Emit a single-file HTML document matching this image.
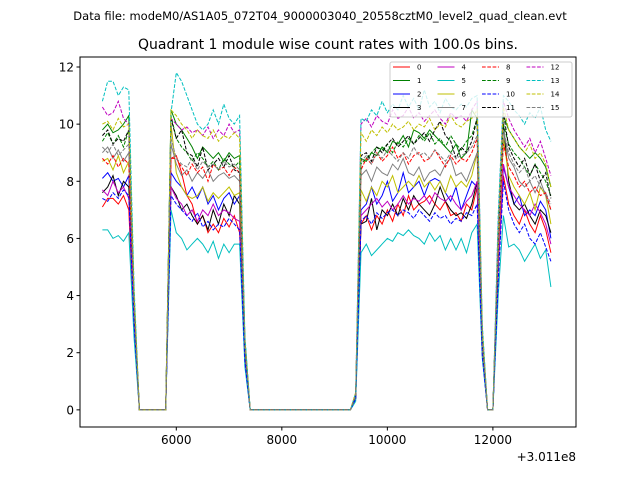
<!DOCTYPE html>
<html><head><meta charset="utf-8"><style>
body{margin:0;background:#fff;}
svg{display:block;font-family:"DejaVu Sans","Liberation Sans",sans-serif;}
</style></head><body>
<svg id="chart" width="640" height="480">
<rect width="640" height="480" fill="#fff"/>
<text x="320" y="20" font-size="11.5" text-anchor="middle">Data file: modeM0/AS1A05_072T04_9000003040_20558cztM0_level2_quad_clean.evt</text>
<text x="328" y="49" font-size="14" text-anchor="middle">Quadrant 1 module wise count rates with 100.0s bins.</text>
<g id="plot"></g>
</svg>
<script>
const tStart = 4600, tStep = 100;
const xTicks = [6000, 8000, 10000, 12000];
const yTicks = [0, 2, 4, 6, 8, 10, 12];
const seriesNames = ["0","1","2","3","4","5","6","7","8","9","10","11","12","13","14","15"];
const seg1 = [
[7.1,7.4,7.4,7.2,7.5,7.0,2.8],[9.8,10.0,9.7,9.8,10.0,10.3,4.0],[8.1,8.3,8.0,8.1,7.8,8.2,3.3],[7.6,7.8,8.2,7.5,8.0,7.8,3.1],
[7.7,7.5,8.0,7.6,7.8,7.4,3.0],[6.3,6.3,6.0,6.1,5.9,6.2,2.5],[8.7,8.8,8.4,8.9,8.3,8.7,3.5],[9.0,9.2,8.8,9.1,8.7,9.0,3.6],
[8.8,8.6,8.9,8.5,8.8,8.6,3.5],[9.4,9.7,9.3,9.6,9.2,9.8,3.8],[7.4,7.3,7.6,7.4,7.7,7.5,3.0],[9.6,9.8,9.3,9.5,9.4,9.8,3.8],
[10.6,10.3,10.4,10.8,10.2,10.0,4.0],[10.8,11.5,11.5,11.0,11.3,11.2,4.3],[10.0,10.1,9.8,10.2,9.9,10.0,4.0],[9.2,9.0,9.3,8.9,9.1,9.3,3.6]];
const seg2 = [
[8.8,8.9,8.3,7.5,7.2,6.5,6.8,6.2,6.5,6.2,6.7,6.4,6.8,6.2,1.8],
[10.5,10.0,9.8,9.5,9.2,8.8,9.2,9.0,8.8,9.0,8.7,9.0,8.8,8.9,2.5],
[8.3,8.0,7.8,7.5,7.8,7.4,7.8,7.2,7.5,7.0,7.4,7.6,7.2,7.5,2.0],
[7.8,7.5,7.0,7.2,6.8,6.5,6.8,6.3,7.0,6.5,7.2,6.8,7.5,7.2,1.8],
[7.8,7.4,7.2,6.8,7.0,6.6,7.0,6.8,7.2,6.8,7.0,6.9,6.7,6.6,1.8],
[7.0,6.2,6.0,5.6,5.8,6.0,5.8,5.5,5.9,5.3,5.8,5.5,5.8,5.8,1.5],
[10.0,8.3,7.8,7.5,7.4,7.5,7.8,7.3,7.6,7.4,7.6,7.8,7.5,7.6,2.1],
[9.3,8.6,8.2,8.4,8.0,8.3,8.1,8.4,8.0,8.2,8.3,8.1,8.2,8.0,2.2],
[8.8,8.8,8.5,8.2,8.6,8.3,8.5,8.0,8.6,8.4,8.5,8.2,8.5,8.3,2.2],
[10.3,9.5,9.2,9.0,8.7,9.0,8.8,8.5,8.7,8.4,8.8,8.6,8.5,8.7,2.3],
[7.5,7.2,7.0,6.8,6.6,6.9,6.4,6.6,6.3,6.5,6.4,6.7,6.5,6.3,1.7],
[10.2,9.5,9.8,9.0,8.9,8.5,9.2,8.4,8.6,8.8,8.5,8.9,8.4,8.3,2.2],
[10.2,10.0,9.8,9.9,9.7,9.8,9.6,9.9,9.5,9.8,9.6,10.0,9.7,9.8,2.4],
[10.4,11.8,11.5,11.0,10.5,10.0,9.8,10.0,10.5,10.0,10.7,10.2,10.0,10.3,2.6],
[10.5,10.3,10.0,9.8,9.5,9.8,9.6,9.5,9.8,9.4,9.6,9.5,9.7,9.5,2.4],
[9.5,8.8,8.6,8.5,8.8,8.4,8.7,8.5,8.6,8.4,8.7,8.5,8.6,8.4,2.2]];
const seg3 = [
[0.4,6.5,6.8,6.3,6.8,6.5,7.0,6.6,7.2,6.8,7.5,7.0,7.2,7.3,7.5,7.2,7.0,7.3,6.8,6.9,6.6,7.2,7.0,7.8],
[0.5,8.8,8.7,9.0,8.9,9.2,9.0,9.4,9.3,9.6,9.2,9.8,9.7,9.5,9.8,9.6,9.4,9.2,9.0,9.3,8.8,9.0,10.5,10.2],
[0.4,7.0,7.2,7.8,7.2,7.5,8.0,7.3,7.6,8.3,7.6,7.8,8.0,7.5,8.0,8.1,8.0,7.6,7.3,7.8,7.0,7.5,8.0,7.8],
[0.4,6.5,6.6,7.4,6.3,7.0,6.8,7.2,6.8,7.4,7.0,7.5,7.2,7.0,6.8,7.2,7.8,7.3,7.0,6.8,6.9,6.7,7.2,8.0],
[0.4,6.8,7.0,7.2,7.4,7.1,7.3,7.0,7.2,7.5,7.2,7.4,7.3,7.5,7.2,7.6,7.4,7.3,7.5,7.2,7.0,7.3,7.5,8.0],
[0.3,5.5,5.8,5.4,5.6,5.8,6.0,5.9,6.2,6.1,6.3,6.1,6.0,5.8,6.2,5.9,6.1,5.6,6.0,5.6,6.0,5.5,6.2,6.5],
[0.5,7.7,7.3,7.8,7.5,8.0,7.8,8.2,7.6,7.8,8.0,7.8,8.2,7.8,8.0,7.7,8.0,7.6,8.2,7.8,8.0,7.8,8.2,9.0],
[0.5,8.2,8.4,8.0,8.5,8.3,8.2,8.6,8.4,8.8,8.3,8.2,8.5,8.0,8.3,8.4,8.2,8.6,8.8,8.2,8.3,8.0,8.5,9.0],
[0.5,8.4,8.8,8.6,9.0,8.7,8.9,9.2,8.8,9.0,8.6,8.9,9.0,8.7,8.8,9.1,8.8,8.5,8.9,8.6,8.8,8.7,9.0,9.5],
[0.5,8.6,8.8,9.0,9.2,9.1,9.3,9.0,9.4,9.2,9.5,9.3,9.6,9.4,9.7,9.3,9.5,9.2,9.6,9.3,9.1,9.4,9.6,10.2],
[0.4,6.6,6.8,6.5,6.9,6.7,6.9,7.0,6.8,7.0,6.9,6.7,7.0,6.8,6.6,6.9,6.7,6.8,6.5,6.7,6.6,6.9,6.8,7.2],
[0.5,8.9,9.0,8.7,9.2,9.0,9.3,9.5,9.2,9.4,9.6,9.3,9.5,9.7,9.4,9.8,10.1,9.6,9.4,8.8,9.2,9.0,9.4,10.2],
[0.6,10.0,10.2,9.9,10.3,10.1,10.0,10.5,10.2,10.3,10.6,10.2,10.4,10.1,10.3,10.5,10.2,10.0,10.4,10.2,10.3,10.1,10.5,10.8],
[0.6,10.2,10.1,10.5,10.3,10.8,10.4,10.7,10.5,11.0,10.6,10.9,10.5,11.2,10.6,10.8,10.4,10.9,10.6,10.5,10.7,10.6,10.9,11.0],
[0.6,9.7,9.4,9.8,9.6,9.9,9.7,10.0,9.8,9.9,10.1,9.8,10.0,9.9,10.2,9.8,10.0,9.9,10.3,10.0,9.9,10.1,10.2,10.5],
[0.5,8.7,8.9,8.6,9.0,8.8,9.1,8.9,8.7,9.0,8.8,9.2,8.9,9.0,8.8,9.1,8.9,8.7,9.0,8.8,8.9,9.0,9.2,9.6]];
const seg4 = [
[2.0,0,0,5.0,8.2,7.2,6.8,6.5,7.0,6.5,6.2,6.8,6.3,5.5],
[2.5,0,0,6.0,10.3,9.8,9.5,9.2,9.0,8.8,9.0,8.8,8.5,7.8],
[2.2,0,0,5.0,8.5,7.8,7.2,7.5,6.8,7.0,6.8,7.3,7.0,6.0],
[2.0,0,0,5.0,10.0,8.0,7.2,7.0,7.2,6.8,6.5,7.0,6.8,6.2],
[2.0,0,0,5.0,8.6,7.8,7.5,7.2,7.0,6.8,7.2,6.9,6.5,5.8],
[1.8,0,0,4.0,6.8,5.7,5.8,5.6,5.2,5.5,5.8,5.3,5.6,4.3],
[2.2,0,0,5.5,9.5,8.2,7.8,7.5,7.2,7.6,7.0,7.8,7.5,6.5],
[2.4,0,0,5.8,9.8,8.8,8.5,8.0,7.8,8.0,7.6,8.0,7.5,7.0],
[2.5,0,0,5.8,9.3,8.5,8.2,7.8,8.0,7.6,7.8,7.5,7.6,7.0],
[2.6,0,0,6.0,10.0,9.3,9.0,8.8,8.5,8.2,8.6,8.3,8.0,7.5],
[1.9,0,0,4.5,8.0,7.0,6.5,6.2,6.5,6.0,5.8,6.2,5.7,5.2],
[2.6,0,0,6.0,10.4,9.2,8.8,8.5,8.8,8.2,8.6,8.0,8.3,7.4],
[2.8,0,0,6.5,10.8,10.2,9.8,9.5,9.2,9.5,9.0,9.4,8.8,8.2],
[3.0,0,0,6.8,11.0,10.8,10.5,10.3,10.0,10.4,10.2,10.6,9.8,9.4],
[2.8,0,0,6.2,10.6,9.8,9.5,9.2,9.0,9.3,8.8,9.0,8.6,7.8],
[2.5,0,0,6.0,9.8,9.0,8.6,8.3,8.5,8.0,8.2,7.8,7.6,7.2]];
const zeros1 = [0,0,0,0,0,0];
const zeros2 = [0,0,0,0,0,0,0,0,0,0,0,0,0,0,0,0,0,0,0,0];

const colors = ["#ff0000","#008000","#0000ff","#000000","#bf00bf","#00bfbf","#bfbf00","#808080"];
const L = 80, R = 576, T = 57, B = 427;
const xMin = 4175, xMax = 13575, yMin = -0.6, yMax = 12.35;
const xs = v => L + (v - xMin) / (xMax - xMin) * (R - L);
const ys = v => B - (v - yMin) / (yMax - yMin) * (B - T);
const NS = "http://www.w3.org/2000/svg";
const g = document.getElementById('plot');
function mk(tag, attrs, parent) {
  const e = document.createElementNS(NS, tag);
  for (const k in attrs) e.setAttribute(k, attrs[k]);
  (parent || g).appendChild(e);
  return e;
}
for (let s = 0; s < 16; s++) {
  const vals = [].concat(seg1[s], zeros1, seg2[s], zeros2, seg3[s], seg4[s]);
  const pts = vals.map((v, i) => xs(tStart + i * tStep).toFixed(1) + "," + ys(v).toFixed(1)).join(" ");
  const pl = mk('polyline', {points: pts, fill: 'none', stroke: colors[s % 8], 'stroke-width': 1});
  if (s >= 8) pl.setAttribute('stroke-dasharray', '3.7,1.6');
  
  
}
const fr = mk('rect', {x: L, y: T, width: R - L, height: B - T, fill: 'none', stroke: '#000', 'stroke-width': 1});


xTicks.forEach(v => {
  const x = xs(v);
  mk('line', {x1: x, x2: x, y1: B, y2: B + 3.5, stroke: '#000'});
  const t = mk('text', {x: x, y: B + 17, 'font-size': 12, 'text-anchor': 'middle'});
  t.textContent = v;
  
  
});
yTicks.forEach(v => {
  const y = ys(v);
  mk('line', {x1: L - 3.5, x2: L, y1: y, y2: y, stroke: '#000'});
  const t = mk('text', {x: L - 6, y: y + 4.5, 'font-size': 12, 'text-anchor': 'end'});
  t.textContent = v;
  
  
});
const off = mk('text', {x: 576, y: 461, 'font-size': 12, 'text-anchor': 'end'});
off.textContent = '+3.011e8';


const lg = mk('g', {});


mk('rect', {x: 390, y: 62, width: 182, height: 55, rx: 2, fill: '#fff', 'fill-opacity': 0.8, stroke: '#ccc', 'stroke-width': 1}, lg);
const colX = [393, 437.5, 482, 526.5], rowY = [67, 80.5, 94, 107.5];
for (let s = 0; s < 16; s++) {
  const c = Math.floor(s / 4), r = s % 4;
  const ln = mk('line', {x1: colX[c], x2: colX[c] + 17, y1: rowY[r], y2: rowY[r], stroke: colors[s % 8], 'stroke-width': 1}, lg);
  if (s >= 8) ln.setAttribute('stroke-dasharray', '3.7,1.6');
  const t = mk('text', {x: colX[c] + 24, y: rowY[r] + 2.5, 'font-size': 7}, lg);
  t.textContent = seriesNames[s];
  
  
}
</script>
</body></html>
